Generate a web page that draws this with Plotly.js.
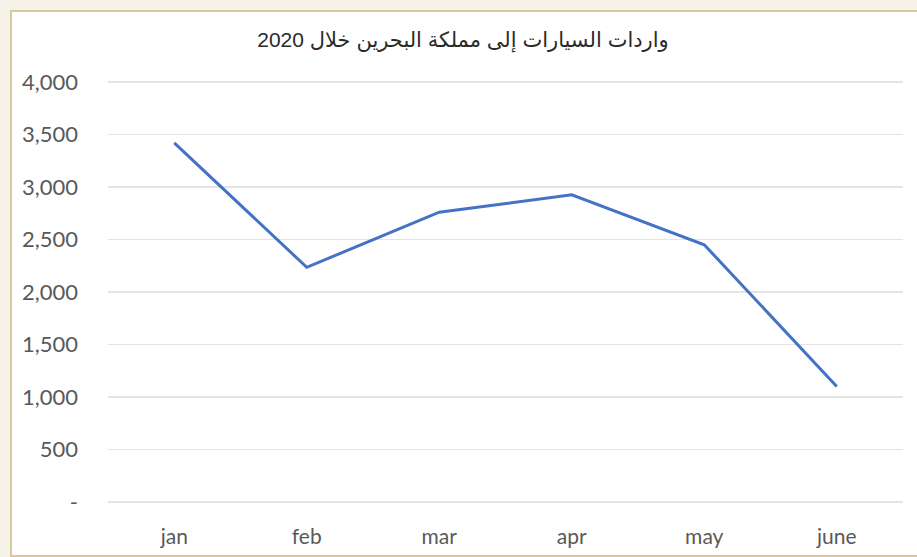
<!DOCTYPE html>
<html>
<head>
<meta charset="utf-8">
<script src="https://cdn.plot.ly/plotly-3.0.1.min.js"></script>
<style>html,body{margin:0;padding:0;background:#f5f2e8;}#chart{width:917px;height:557px;}</style>
</head>
<body>
<div id="chart"></div>
<script>
const months = ["jan", "feb", "mar", "apr", "may", "june"];
const imports = [3420, 2235, 2760, 2925, 2450, 1100];
const yTickVals = [0, 500, 1000, 1500, 2000, 2500, 3000, 3500, 4000];
const yTickText = ["-", "500", "1,000", "1,500", "2,000", "2,500", "3,000", "3,500", "4,000"];
const titleText = "واردات السيارات إلى مملكة البحرين خلال 2020";

const W = 917, H = 557;
const m = {l: 108, r: 14, t: 62, b: 35};
const pw = W - m.l - m.r, ph = H - m.t - m.b;
const px = x => (x - m.l) / pw;
const py = y => (H - m.b - y) / ph;

const trace = {
  x: months,
  y: imports,
  type: "scatter",
  mode: "lines",
  line: {color: "#4472c4", width: 3},
  hoverinfo: "none"
};

const layout = {
  width: W, height: H,
  margin: m,
  paper_bgcolor: "#f5f2e8",
  plot_bgcolor: "rgba(0,0,0,0)",
  showlegend: false,
  title: {
    text: titleText,
    x: px(463), xref: "paper", xanchor: "center",
    y: 1 - 40 / H, yanchor: "middle",
    font: {family: "Liberation Sans, DejaVu Sans, sans-serif", size: 21, color: "#2a2a2a"}
  },
  xaxis: {
    type: "category",
    range: [-0.5, 5.5],
    showgrid: false,
    zeroline: false,
    showline: false,
    ticks: "",
    tickfont: {family: "Lato, Open Sans, sans-serif", size: 21, color: "#595959"}
  },
  yaxis: {
    range: [-190, 4190],
    tickvals: yTickVals,
    ticktext: yTickText,
    showgrid: true,
    gridcolor: "#e4e4e4",
    gridwidth: 1.5,
    zeroline: false,
    showline: false,
    ticks: "",
    ticklabelstandoff: 29,
    tickfont: {family: "Lato, Open Sans, sans-serif", size: 22, color: "#595959"}
  },
  shapes: [
    {type: "rect", xref: "paper", yref: "paper", layer: "below",
     x0: px(11), x1: px(925), y0: py(556), y1: py(11),
     fillcolor: "#ffffff", line: {color: "#d8c99c", width: 2}}
  ]
};

Plotly.newPlot("chart", [trace], layout, {displayModeBar: false, staticPlot: true});
</script>
</body>
</html>
